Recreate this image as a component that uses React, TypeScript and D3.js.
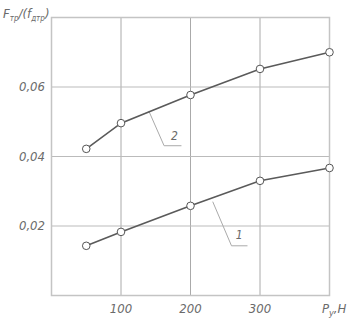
import React from 'react'
import * as d3 from 'd3'

// load values (N) and friction coefficient for the two curves
const loads = [50, 100, 200, 300, 400]
const curve1 = [0.0143, 0.0183, 0.0258, 0.033, 0.0367]
const curve2 = [0.0422, 0.0496, 0.0577, 0.0652, 0.0700]
const xTicks = [100, 200, 300]
const yTicks = [0.02, 0.04, 0.06]
const yTickLabels = ['0,02', '0,04', '0,06']

export default function App() {
  const width = 348
  const height = 319
  const x = d3.scaleLinear().domain([0, 400]).range([51.5, 329.5])
  const y = d3.scaleLinear().domain([0, 0.08]).range([295.5, 17.5])
  const line = d3.line<number>().x((d, i) => x(loads[i])).y(d => y(d))

  const font = "'Liberation Sans Narrow', 'DejaVu Sans Condensed', sans-serif"
  const textColor = '#6a6a6a'

  const series = [curve1, curve2]

  return (
    <svg width={width} height={height} style={{ position: 'absolute', left: 0, top: 0 }}>
      <rect width={width} height={height} fill="#fff" />
      {/* grid */}
      {xTicks.map(t => (
        <line key={'gx' + t} x1={x(t)} x2={x(t)} y1={y(0.08)} y2={y(0)} stroke="#aaa" strokeWidth={1} />
      ))}
      {yTicks.map(t => (
        <line key={'gy' + t} x1={x(0)} x2={x(400)} y1={y(t)} y2={y(t)} stroke="#bbb" strokeWidth={1} />
      ))}
      <rect x={x(0)} y={y(0.08)} width={x(400) - x(0)} height={y(0) - y(0.08)} fill="none" stroke="#c4c4c4" strokeWidth={1.5} />

      {/* leader lines */}
      <polyline points={`${x(140)},${y(0.0531)} ${x(162)},${y(0.0431)} ${x(187)},${y(0.0431)}`} fill="none" stroke="#aaa" strokeWidth={1} />
      <text x={x(177)} y={y(0.0447)} fontFamily={font} fontStyle="italic" fontSize={12} fill={textColor} textAnchor="middle">2</text>
      <polyline points={`${x(232)},${y(0.0270)} ${x(259)},${y(0.0143)} ${x(282)},${y(0.0143)}`} fill="none" stroke="#aaa" strokeWidth={1} />
      <text x={x(270)} y={y(0.0163)} fontFamily={font} fontStyle="italic" fontSize={12} fill={textColor} textAnchor="middle">1</text>

      {/* curves */}
      {series.map((s, k) => (
        <g key={'s' + k}>
          <path d={line(s) || ''} fill="none" stroke="#5a5a5a" strokeWidth={1.6} />
          {s.map((v, i) => (
            <circle key={i} cx={x(loads[i])} cy={y(v)} r={3.8} fill="#fff" stroke="#555" strokeWidth={1} />
          ))}
        </g>
      ))}

      {/* y tick labels */}
      {yTicks.map((t, i) => (
        <text key={'yl' + t} x={45} y={y(t) + 4} fontFamily={font} fontStyle="italic" fontSize={13} fill={textColor} textAnchor="end">{yTickLabels[i]}</text>
      ))}
      {/* x tick labels */}
      {xTicks.map(t => (
        <text key={'xl' + t} x={x(t)} y={313} fontFamily={font} fontStyle="italic" fontSize={13} fill={textColor} textAnchor="middle">{t}</text>
      ))}
      <text x={322} y={313} fontFamily={font} fontStyle="italic" fontSize={13} fill={textColor}>
        P<tspan fontSize={9} dy={3}>y</tspan><tspan dy={-3}>,H</tspan>
      </text>

      {/* axis title */}
      <text x={3} y={18} fontFamily={font} fontStyle="italic" fontSize={13} fill={textColor}>
        F<tspan fontSize={8} dy={3}>тр</tspan><tspan dy={-3}>/(f</tspan><tspan fontSize={8} dy={3}>дтр</tspan><tspan dy={-3}>)</tspan>
      </text>
    </svg>
  )
}
